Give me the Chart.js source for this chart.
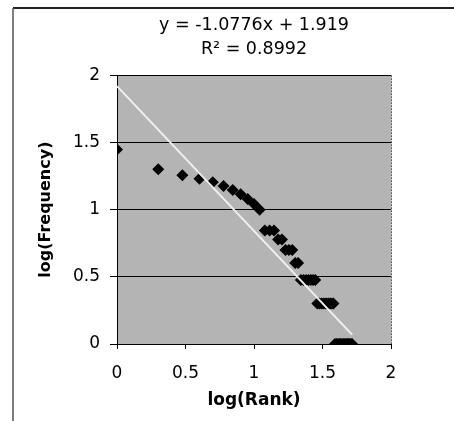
<!DOCTYPE html>
<html>
<head>
<meta charset="utf-8">
<script src="https://cdn.jsdelivr.net/npm/chart.js@4.4.1/dist/chart.umd.min.js"></script>
<style>
  html, body { margin: 0; padding: 0; background: #fff; }
</style>
</head>
<body>
<canvas id="myChart" width="454" height="421"></canvas>
<script>
// log(Rank) and log(Frequency) (52 words, ties share a frequency)
const logRank = [
  0, 0.301, 0.477, 0.602, 0.699, 0.778, 0.845, 0.903, 0.954, 1.000,
  1.041, 1.079, 1.114, 1.146, 1.176, 1.204, 1.230, 1.255, 1.279, 1.301,
  1.322, 1.342, 1.362, 1.380, 1.398, 1.415, 1.431, 1.447, 1.462, 1.477,
  1.491, 1.505, 1.519, 1.531, 1.544, 1.556, 1.568, 1.580, 1.591, 1.602,
  1.613, 1.623, 1.633, 1.643, 1.653, 1.663, 1.672, 1.681, 1.690, 1.699,
  1.708, 1.716
];
const logFreq = [
  1.447, 1.301, 1.255, 1.230, 1.204, 1.176, 1.146, 1.114, 1.079, 1.041,
  1.000, 0.845, 0.845, 0.845, 0.778, 0.778, 0.699, 0.699, 0.699, 0.602,
  0.602, 0.477, 0.477, 0.477, 0.477, 0.477, 0.477, 0.477, 0.301, 0.301,
  0.301, 0.301, 0.301, 0.301, 0.301, 0.301, 0.301, 0.301, 0, 0,
  0, 0, 0, 0, 0, 0, 0, 0, 0, 0,
  0, 0
];

// linear trendline (ends of the fitted line over the data range)
const trendX = [0, 1.716];
const trendY = [1.919, 0.070];
const equationText = 'y = -1.0776x + 1.919';
const r2Text = 'R\u00B2 = 0.8992';

// ticks and their labels
const xTicks = [0, 0.5, 1, 1.5, 2];
const xTickLabels = ['0', '0.5', '1', '1.5', '2'];
const yTicks = [0, 0.5, 1, 1.5, 2];
const yTickLabels = ['0', '0.5', '1', '1.5', '2'];

// grey plot area, dotted right edge, and the scanned frame (top + left edge)
const plotFrame = {
  id: 'plotFrame',
  beforeDraw(chart) {
    const {ctx, chartArea: a} = chart;
    ctx.save();
    ctx.fillStyle = '#b4b4b4';
    ctx.fillRect(a.left, a.top, a.width, a.height);
    ctx.restore();
  },
  afterDraw(chart) {
    const {ctx, chartArea: a} = chart;
    ctx.save();
    ctx.strokeStyle = '#555';
    ctx.lineWidth = 1;
    ctx.setLineDash([2, 1]);
    ctx.beginPath();
    ctx.moveTo(a.right + 0.5, a.top);
    ctx.lineTo(a.right + 0.5, a.bottom);
    ctx.stroke();
    ctx.setLineDash([]);
    ctx.strokeStyle = '#222';
    ctx.lineWidth = 2;
    ctx.beginPath();
    ctx.moveTo(13, 8);
    ctx.lineTo(chart.width, 8);
    ctx.stroke();
    ctx.strokeStyle = '#555';
    ctx.lineWidth = 1.5;
    ctx.beginPath();
    ctx.moveTo(13, 8);
    ctx.lineTo(13, chart.height);
    ctx.stroke();
    ctx.restore();
  }
};

const data = {
  datasets: [
    {
      type: 'line',
      label: 'Linear',
      data: trendX.map((x, i) => ({x: x, y: trendY[i]})),
      borderColor: '#f0f0f0',
      borderWidth: 2,
      pointRadius: 0,
      fill: false
    },
    {
      type: 'scatter',
      label: 'log(Frequency)',
      data: logRank.map((x, i) => ({x: x, y: logFreq[i]})),
      pointStyle: 'rectRot',
      pointRadius: 6,
      backgroundColor: '#000',
      borderColor: '#000',
      borderWidth: 0
    }
  ]
};

const config = {
  data,
  options: {
    responsive: false,
    animation: false,
    layout: { padding: { left: 20, right: 63, top: 0, bottom: 0 } },
    plugins: {
      legend: { display: false },
      tooltip: { enabled: false },
      title: {
        display: true,
        fullSize: false,
        text: [equationText, r2Text],
        color: '#000',
        font: { family: 'DejaVu Sans', size: 17.5, weight: 'normal', lineHeight: 1.35 },
        padding: { top: 14, bottom: 14 }
      }
    },
    scales: {
      x: {
        type: 'linear',
        min: 0,
        max: 2,
        afterBuildTicks: s => { s.ticks = xTicks.map(v => ({value: v})); },
        afterFit: s => { s.height = 77; },
        ticks: {
          color: '#000',
          font: { family: 'DejaVu Sans', size: 17 },
          padding: 14,
          callback: (v, i) => xTickLabels[i]
        },
        grid: { drawOnChartArea: false, drawTicks: true, tickLength: 5, tickColor: '#000', color: '#000' },
        border: { color: '#000', width: 1 },
        title: {
          display: true,
          text: 'log(Rank)',
          color: '#000',
          font: { family: 'DejaVu Sans', size: 17, weight: 'bold' },
          padding: { top: 0, bottom: 10 }
        }
      },
      y: {
        type: 'linear',
        min: 0,
        max: 2,
        afterBuildTicks: s => { s.ticks = yTicks.map(v => ({value: v})); },
        afterFit: s => { s.width = 97; },
        ticks: {
          color: '#000',
          font: { family: 'DejaVu Sans', size: 17 },
          padding: 10,
          callback: (v, i) => yTickLabels[i]
        },
        grid: { color: '#000', lineWidth: 1, tickLength: 7, tickColor: '#000' },
        border: { color: '#000', width: 1 },
        title: {
          display: true,
          text: 'log(Frequency)',
          color: '#000',
          font: { family: 'DejaVu Sans', size: 16, weight: 'bold' },
          padding: { top: 16, bottom: 0 }
        }
      }
    }
  },
  plugins: [plotFrame]
};

const myChart = new Chart(document.getElementById('myChart'), config);
</script>
</body>
</html>
